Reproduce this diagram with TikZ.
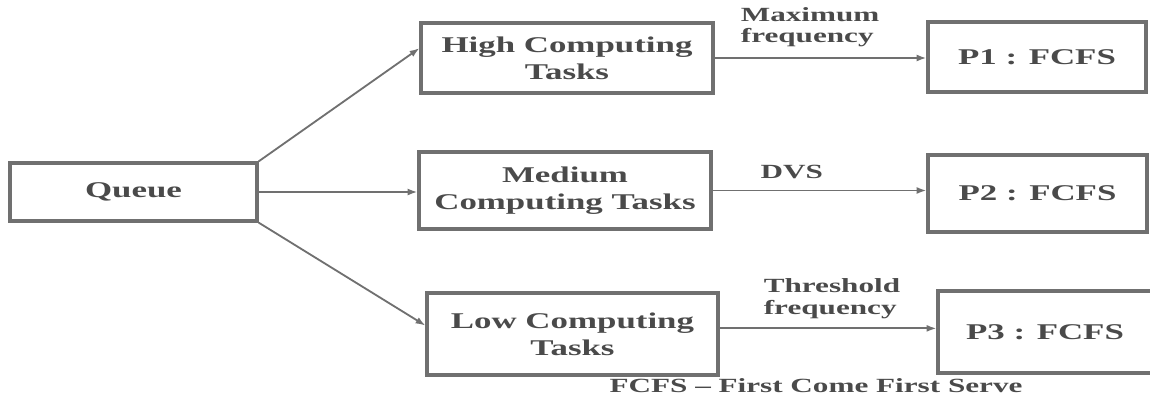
\documentclass[tikz,border=0pt]{standalone}
\usepackage{fontspec}
\setmainfont{Liberation Serif}[FakeStretch=1.55]
\usepackage{tikz}
\usetikzlibrary{arrows.meta}

\definecolor{linegray}{HTML}{707070}
\definecolor{textgray}{HTML}{4A4A4A}

\begin{document}
\begin{tikzpicture}[x=0.025cm, y=-0.025cm,
    box/.style={draw=linegray, line width=2.2pt, align=center, text=textgray,
        font=\fontsize{16}{19}\selectfont\bfseries, inner sep=0pt},
    conn/.style={draw=linegray, line width=1.3pt, -{Latex[length=7pt,width=5pt]}},
    lbl/.style={text=textgray, font=\fontsize{14.3}{15.5}\selectfont\bfseries, align=left, inner sep=0pt}]
    \useasboundingbox (0,0) rectangle (1150,402);

    \node[box, minimum width=247*0.025cm, minimum height=58*0.025cm] (Q) at (133.5,192) {Queue};

    \node[box, minimum width=292*0.025cm, minimum height=70*0.025cm] (H) at (567,58) {High Computing\\Tasks};
    \node[box, minimum width=292*0.025cm, minimum height=77*0.025cm] (M) at (565,190.5) {Medium\\Computing Tasks};
    \node[box, minimum width=291*0.025cm, minimum height=82*0.025cm] (L) at (572.5,334) {Low Computing\\Tasks};

    \node[box, minimum width=218*0.025cm, minimum height=70*0.025cm] (P1) at (1037,57) {P1 : FCFS};
    \node[box, minimum width=219*0.025cm, minimum height=77*0.025cm] (P2) at (1037.5,193.5) {P2 : FCFS};
    \node[box, minimum width=214*0.025cm, minimum height=82*0.025cm] (P3) at (1045,332) {P3 : FCFS};

    \draw[conn] (Q.north east) -- ([yshift=7pt]H.west);
    \draw[conn] (Q.east) -- (Q.east -| M.west);
    \draw[conn] (Q.south east) -- ([yshift=6pt]L.west);

    \draw[conn] (H.east) -- (H.east -| P1.west) node[lbl, pos=0.12, anchor=south west, yshift=7pt] (T1) {Maximum\\frequency};
    \draw[conn] (M.east) -- (M.east -| P2.west) node[lbl, pos=0.37, anchor=south, yshift=8pt] (T2) {DVS};
    \draw[conn] ([yshift=4pt]L.east) -- ([yshift=4pt]L.east -| P3.west) node[lbl, pos=0.2, anchor=south west, yshift=6pt] (T3) {Threshold\\frequency};

    \node[lbl] (N) at (816,386) {FCFS -- First Come First Serve};
\end{tikzpicture}
\end{document}
